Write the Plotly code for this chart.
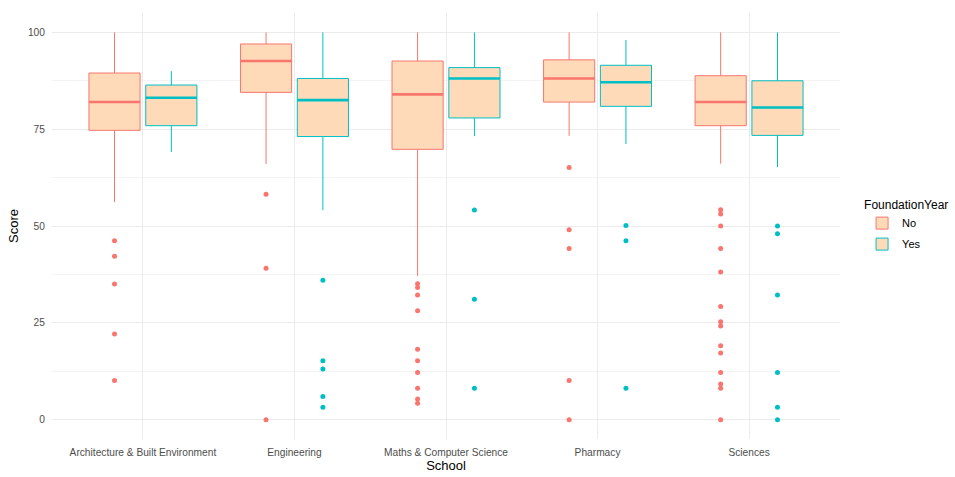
import plotly.graph_objects as go

# Schools on the x axis
schools = ["Architecture & Built Environment", "Engineering",
           "Maths & Computer Science", "Pharmacy", "Sciences"]

# Box summary statistics, FoundationYear = No
no_lower = [56.2, 66.0, 37.1, 73.3, 66.1]
no_q1 = [74.7, 84.5, 69.8, 82.0, 75.9]
no_median = [82.0, 92.6, 84.0, 88.1, 82.0]
no_q3 = [89.5, 97.0, 92.6, 92.9, 88.8]
no_upper = [100, 100, 100, 100, 100]

# Box summary statistics, FoundationYear = Yes
yes_lower = [69.1, 54.1, 73.2, 71.2, 65.2]
yes_q1 = [75.9, 73.1, 77.9, 80.9, 73.4]
yes_median = [83.1, 82.5, 88.1, 87.1, 80.6]
yes_q3 = [86.4, 88.1, 90.9, 91.5, 87.5]
yes_upper = [90.0, 100, 100, 98.0, 100]

# Outlying scores per school
no_outliers = [
    [46.2, 42.2, 35.0, 22.1, 10.1],
    [58.2, 39.1, 0],
    [35.1, 34.1, 32.2, 28.1, 18.2, 15.2, 12.2, 8.1, 5.3, 4.2],
    [65.1, 49.0, 44.2, 10.1, 0],
    [54.2, 53.1, 50.0, 44.2, 38.1, 29.2, 25.3, 24.2, 19.1, 17.2, 12.2, 9.2, 8.1, 0],
]
yes_outliers = [
    [],
    [36.0, 15.2, 13.1, 6.0, 3.2],
    [54.1, 31.1, 8.1],
    [50.1, 46.2, 8.1],
    [50.0, 48.0, 32.2, 12.2, 3.2, 0],
]

FILL = "#FFDAB9"
COL_NO = "#F8766D"
COL_YES = "#00BFC4"

DODGE = 0.1875          # half of the dodge width
BOX_W = 0.375 * 0.9     # box width after padding

fig = go.Figure()

groups = [
    ("No", COL_NO, -DODGE, no_lower, no_q1, no_median, no_q3, no_upper, no_outliers),
    ("Yes", COL_YES, DODGE, yes_lower, yes_q1, yes_median, yes_q3, yes_upper, yes_outliers),
]

for name, col, off, lo, q1, med, q3, up, outs in groups:
    xs = [i + 1 + off for i in range(len(schools))]
    fig.add_trace(go.Box(
        name=name, x=xs, q1=q1, median=med, q3=q3,
        lowerfence=lo, upperfence=up,
        width=BOX_W, whiskerwidth=0,
        fillcolor=FILL, line=dict(color=col, width=1),
        boxpoints=False, legendgroup=name, showlegend=True,
    ))
    # thicker median bars
    mx, my = [], []
    for x, m in zip(xs, med):
        mx += [x - BOX_W / 2, x + BOX_W / 2, None]
        my += [m, m, None]
    fig.add_trace(go.Scatter(
        x=mx, y=my, mode="lines", line=dict(color=col, width=2.6),
        legendgroup=name, showlegend=False, hoverinfo="skip",
    ))
    # outlier points
    ox, oy = [], []
    for x, vals in zip(xs, outs):
        ox += [x] * len(vals)
        oy += vals
    fig.add_trace(go.Scatter(
        x=ox, y=oy, mode="markers",
        marker=dict(color=col, size=5, symbol="circle"),
        legendgroup=name, showlegend=False,
    ))

grid = "#EBEBEB"
fig.update_layout(
    width=955, height=477,
    margin=dict(l=52, r=115, t=13, b=38, autoexpand=False),
    paper_bgcolor="white", plot_bgcolor="white",
    font=dict(family="Liberation Sans, Arial, sans-serif", color="#4D4D4D", size=10.2),
    showlegend=True,
    legend=dict(
        title=dict(text="FoundationYear", font=dict(size=12, color="black")),
        x=1.028, xanchor="left", y=0.5, yanchor="middle",
        font=dict(size=11, color="black"), tracegroupgap=2,
        bgcolor="rgba(0,0,0,0)", borderwidth=0,
    ),
    xaxis=dict(
        range=[0.4, 5.6], tickmode="array",
        tickvals=[1, 2, 3, 4, 5], ticktext=schools, automargin=False,
        showgrid=True, gridcolor=grid, gridwidth=1, zeroline=False,
        ticks="outside", ticklen=4, tickcolor="rgba(0,0,0,0)", showline=False,
        title=dict(text="School", font=dict(size=13, color="black"), standoff=2),
        tickfont=dict(size=10.2, color="#4D4D4D"),
    ),
    yaxis=dict(
        range=[-5, 105], tickmode="array", tickvals=[0, 25, 50, 75, 100],
        automargin=False,
        showgrid=True, gridcolor=grid, gridwidth=1, zeroline=False,
        ticks="outside", ticklen=4, tickcolor="rgba(0,0,0,0)", showline=False,
        minor=dict(tickvals=[12.5, 37.5, 62.5, 87.5], showgrid=True,
                   gridcolor="#F3F3F3", gridwidth=1, ticks=""),
        title=dict(text="Score", font=dict(size=13, color="black"), standoff=6),
        tickfont=dict(size=10.2, color="#4D4D4D"),
    ),
)

fig.write_html("out.html")
